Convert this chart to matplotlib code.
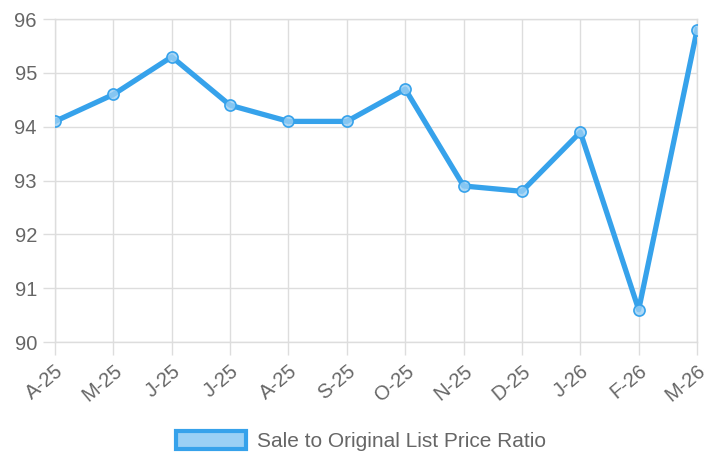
import numpy as np
import matplotlib.pyplot as plt
from matplotlib.patches import Patch

# datos
meses = ["A-25", "M-25", "J-25", "J-25", "A-25", "S-25",
         "O-25", "N-25", "D-25", "J-26", "F-26", "M-26"]
ratio = [94.1, 94.6, 95.3, 94.4, 94.1, 94.1,
         94.7, 92.9, 92.8, 93.9, 90.6, 95.8]
serie = "Sale to Original List Price Ratio"

azul = "#36A2EB"
azul_claro = "#9AD0F5"
gris = "#DDDDDD"
texto = "#666666"

plt.rcParams['font.family'] = ['Liberation Sans', 'DejaVu Sans']

fig = plt.figure(figsize=(7.17, 4.57), dpi=100)
ax = fig.add_axes([0.0767, 0.2516, 0.8955, 0.7065])

x = np.arange(len(meses))
ax.plot(x, ratio, color=azul, lw=3.8, solid_joinstyle="round", zorder=3)
ax.plot(x, ratio, "o", ms=8, mfc=(154/255, 208/255, 245/255, 0.8),
        mec=azul, mew=1.2, zorder=4)

ax.set_xlim(0, len(meses) - 1)
ax.set_ylim(90, 96)
ax.set_yticks(np.arange(90, 97, 1))
ax.set_xticks(x)
ax.set_xticklabels(meses, rotation=40, ha="right", rotation_mode="anchor")

ax.grid(True, color=gris, lw=1)
ax.set_axisbelow(True)
for s in ax.spines.values():
    s.set_color(gris)
    s.set_linewidth(1)
ax.tick_params(axis="both", colors=gris, length=9, width=1,
               labelcolor=texto, labelsize=14.5, pad=4)
ax.tick_params(axis="x", labelsize=14.5, pad=5)

leg = fig.legend(handles=[Patch(facecolor=azul_claro, edgecolor=azul, lw=3,
                                label=serie)],
                 loc="center", bbox_to_anchor=(0.503, 0.035), frameon=False,
                 fontsize=15, handlelength=3.4, handleheight=1.0,
                 handletextpad=0.5)
for t in leg.get_texts():
    t.set_color(texto)

plt.savefig("out.png", dpi=100)
